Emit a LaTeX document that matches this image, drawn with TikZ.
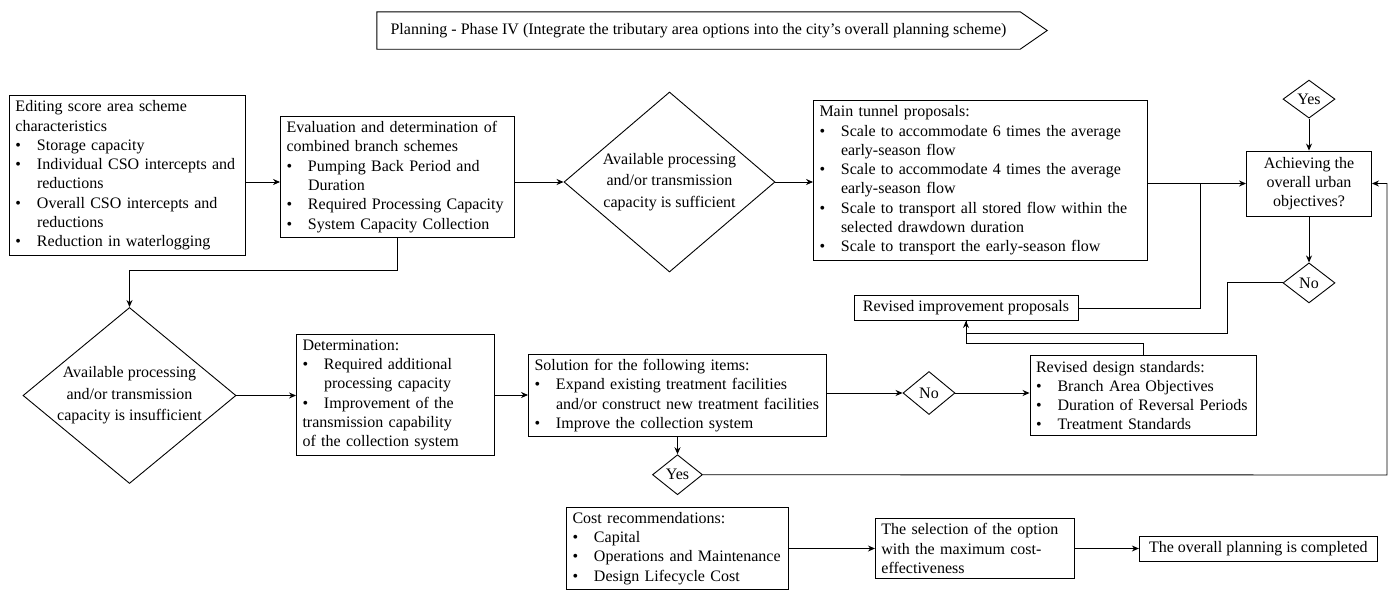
\documentclass[tikz,border=0pt]{standalone}
\usepackage{fontspec}
\setmainfont{Liberation Serif}
\usepackage{tikz}
\usetikzlibrary{shapes.geometric,positioning,arrows.meta,calc}

\hyphenpenalty=10000
\exhyphenpenalty=10000
\newcommand{\bul}{\par\hangindent=21.5pt\hangafter=1\noindent\makebox[21.5pt][l]{\textbullet}}
\newcommand{\txtfont}{\fontsize{16}{19.3}\selectfont}

\begin{document}
\begin{tikzpicture}[x=1pt, y=-1pt,
    box/.style={draw, line width=0.9pt, align=left, inner xsep=6pt, inner ysep=5pt, font=\txtfont},
    dia/.style={draw, diamond, line width=0.9pt, inner sep=0pt, font=\txtfont},
    lbl/.style={align=center, font=\fontsize{16}{21.5}\selectfont},
    arr/.style={line width=0.9pt, -{Stealth[length=7pt, width=6pt]}},
    lin/.style={line width=0.9pt}]
  \useasboundingbox (0,0) rectangle (1394,589);

  % banner
  \node[font=\txtfont, minimum width=643pt, minimum height=37pt] (ttl) at (698.5,30.5)
    {Planning - Phase IV (Integrate the tributary area options into the city's overall planning scheme)};
  \draw[lin] (ttl.north west) -- (ttl.north east) -- ($(ttl.east)+(27,0)$) -- (ttl.south east) -- (ttl.south west) -- cycle;

  % first row
  \node[box, text width=224pt] (edit) at (127.5,175.5) {Editing score area scheme\newline characteristics
    \bul Storage capacity
    \bul Individual CSO intercepts and\newline reductions
    \bul Overall CSO intercepts and\newline reductions
    \bul Reduction in waterlogging};
  \node[box, text width=222pt] (evalb) at (397.5,177) {Evaluation and determination of\newline combined branch schemes
    \bul Pumping Back Period and\newline Duration
    \bul Required Processing Capacity
    \bul System Capacity Collection};
  \node[dia, minimum width=211pt, minimum height=180pt,
    label={[lbl]center:Available processing\\and/or transmission\\capacity is sufficient}] (suff) at (669.5,182) {};
  \node[box, text width=322pt] (tunnel) at (980.5,180.5) {Main tunnel proposals:
    \bul Scale to accommodate 6 times the average\newline early-season flow
    \bul Scale to accommodate 4 times the average\newline early-season flow
    \bul Scale to transport all stored flow within the\newline selected drawdown duration
    \bul Scale to transport the early-season flow};
  \node[box, align=center, minimum width=125pt, minimum height=65pt] (achv) at (1309,183.5) {Achieving the\\overall urban\\objectives?};
  \node[dia, minimum width=52pt, minimum height=38pt] (yes1) [above=32pt of achv] {Yes};
  \node[dia, minimum width=52pt, minimum height=40pt] (no1) [below=46pt of achv] {No};
  \node[box, align=center, minimum width=224pt, minimum height=25pt, inner ysep=3pt] (revimp) at (966,308) {Revised improvement proposals};

  % second row
  \node[dia, minimum width=213pt, minimum height=176pt,
    label={[lbl]center:Available processing\\and/or transmission\\capacity is insufficient}] (insuf) at (129.5,395.5) {};
  \node[box, text width=186pt] (determ) at (395.5,395) {Determination:
    \bul Required additional\newline processing capacity
    \bul Improvement of the\newline transmission capability\newline of the collection system};
  \node[box, text width=286pt] (solu) at (677.5,395.5) {Solution for the following items:
    \bul Expand existing treatment facilities\newline and/or construct new treatment facilities
    \bul Improve the collection system};
  \node[dia, minimum width=52pt, minimum height=43pt] (no2) at (929,393) {No};
  \node[box, text width=214pt] (revdes) at (1143,395.5) {Revised design standards:
    \bul Branch Area Objectives
    \bul Duration of Reversal Periods
    \bul Treatment Standards};
  \node[dia, minimum width=50pt, minimum height=40pt] (yes2) [below=17pt of solu] {Yes};

  % third row
  \node[box, text width=210pt] (cost) at (677.5,548.5) {Cost recommendations:
    \bul Capital
    \bul Operations and Maintenance
    \bul Design Lifecycle Cost};
  \node[box, text width=187pt] (select) [right=86pt of cost] {The selection of the option\newline with the maximum cost-\newline effectiveness};
  \node[box, minimum width=238pt, minimum height=25pt, inner ysep=3pt, align=center] (done) [right=64pt of select] {The overall planning is completed};

  % connectors
  \draw[arr] (edit.east |- suff) -- (evalb.west |- suff);
  \draw[arr] (evalb.east |- suff) -- (suff.west);
  \draw[arr] (suff.east) -- (tunnel.west |- suff);
  \draw[arr] (tunnel.east |- achv) -- (achv.west);
  \coordinate (jn) at (1200,183.5);
  \draw[lin] (revimp.east) -| (jn);
  \draw[arr] (yes1) -- (achv);
  \draw[arr] (achv) -- (no1);
  \coordinate (nb) at (1227,333);
  \draw[lin] (no1.west) -| (nb) -| (revimp.south);
  \coordinate (dj) at (966,343);
  \draw[arr] (revdes.north) |- (dj) -- (revimp.south);
  \draw[arr] (evalb.south) -- ++(0,32) -| (insuf.north);
  \draw[arr] (insuf.east) -- (determ.west |- insuf);
  \draw[arr] (determ.east) -- (solu.west |- determ);
  \draw[arr] (solu.east |- no2) -- (no2.west);
  \draw[arr] (no2.east) -- (revdes.west |- no2);
  \draw[arr] (solu) -- (yes2);
  \coordinate (rr) at (1387,475);
  \draw[arr] (yes2.east) -- (rr) |- (achv.east);
  \draw[arr] (cost) -- (select);
  \draw[arr] (select) -- (done);
\end{tikzpicture}
\end{document}
